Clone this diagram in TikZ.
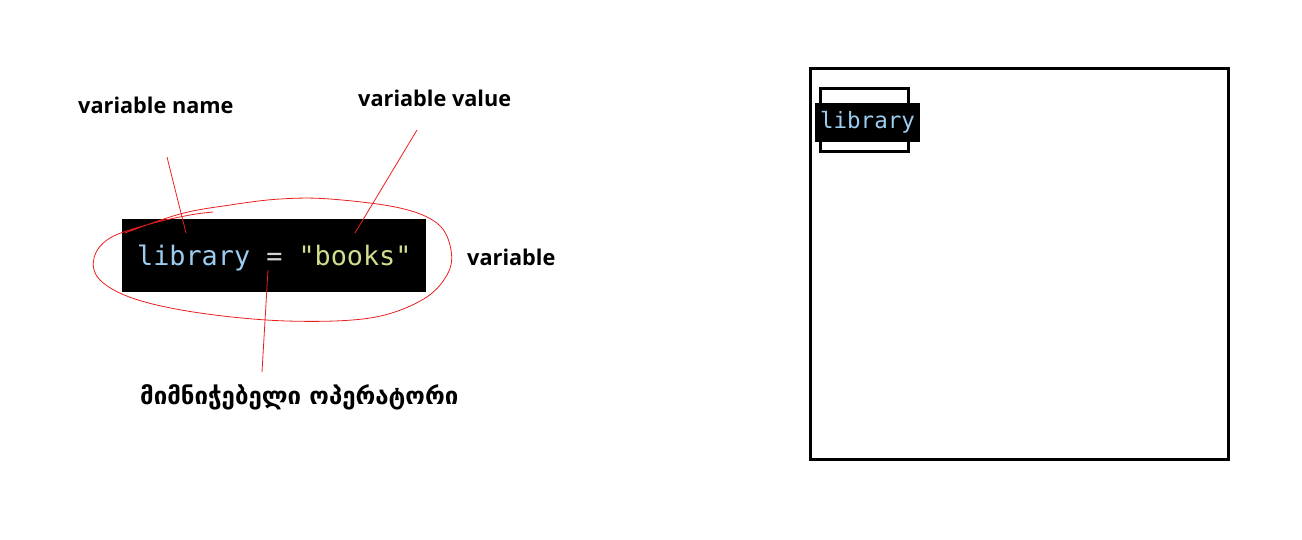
\documentclass[tikz,border=0pt]{standalone}
\usepackage{fontspec}
\setmainfont{Open Sans}
\newfontfamily\labelfont{Open Sans}
\newfontfamily\geofont[Script=Georgian]{DejaVu Sans}
\newfontfamily\codefont{DejaVu Sans Mono}
\usepackage{tikz}
\usepackage{xcolor}
\usetikzlibrary{positioning}
\definecolor{codename}{RGB}{156,205,240}
\definecolor{codeop}{RGB}{212,212,212}
\definecolor{codestr}{RGB}{206,222,140}
\definecolor{markred}{RGB}{235,30,30}
\newcommand{\codesize}{\fontsize{26.8}{30}\selectfont\codefont}

\begin{document}
\begin{tikzpicture}[
    x=1pt,y=-1pt,
    tag/.style={font=\fontsize{21.7}{26}\selectfont\labelfont\bfseries,inner sep=0pt,anchor=west},
    codebox/.style={fill=black,minimum width=304pt,minimum height=73pt,inner sep=0pt},
    pointer/.style={markred,line width=0.8pt},
    frame/.style={draw=black,line width=3pt}
  ]
    \useasboundingbox (0,0) rectangle (1302,539);

    % left: variable statement
    \node[codebox] (code) at (274,255.5) {};
    \node[font=\codesize,anchor=base west,inner sep=0pt] (stmt) at (137,265)
      {\textcolor{codename}{library} \textcolor{codeop}{=} \textcolor{codestr}{"books"}};
    \node[tag] (name) at (78,105) {variable name};
    \node[tag] (value) at (358,98) {variable value};
    \node[tag] (var) at (467,257) {variable};
    \node[font=\fontsize{24}{28}\selectfont\geofont\bfseries,inner sep=0pt,anchor=west] (assign) at (140,397)
      {მიმნიჭებელი ოპერატორი};

    \coordinate (nameEnd) at (167,157);
    \coordinate (nameTip) at (186,233);
    \coordinate (valueEnd) at (417,130);
    \coordinate (valueTip) at (355,233);
    \coordinate (assignTip) at (268,270);
    \coordinate (assignEnd) at (262,372);

    \draw[pointer] (nameEnd) -- (nameTip);
    \draw[pointer] (valueEnd) -- (valueTip);
    \draw[pointer] (assignTip) -- (assignEnd);

    % hand drawn ring round the statement
    \draw[pointer] plot[smooth,tension=0.6] coordinates {
      (213,212) (190,215) (150,224) (110,238) (94,258) (100,280) (135,299)
      (200,313) (287,321) (370,318) (422,300) (447,275) (451,250) (438,224)
      (400,208) (330,199) (280,199) (230,205) (180,214) (125,233)};

    % right: memory box
    \node[frame,minimum width=418pt,minimum height=391pt,inner sep=0pt] (memory) at (1019,263.5) {};
    \node[draw=black,line width=3pt,minimum width=88pt,minimum height=63pt,inner sep=0pt] (slot) at (864,120) {};
    \node[fill=black,minimum width=105pt,minimum height=39pt,inner sep=0pt,
      font=\fontsize{22.5}{24}\selectfont\codefont,text=codename] (label) at (867.5,122.5) {library};
  \end{tikzpicture}
\end{document}
